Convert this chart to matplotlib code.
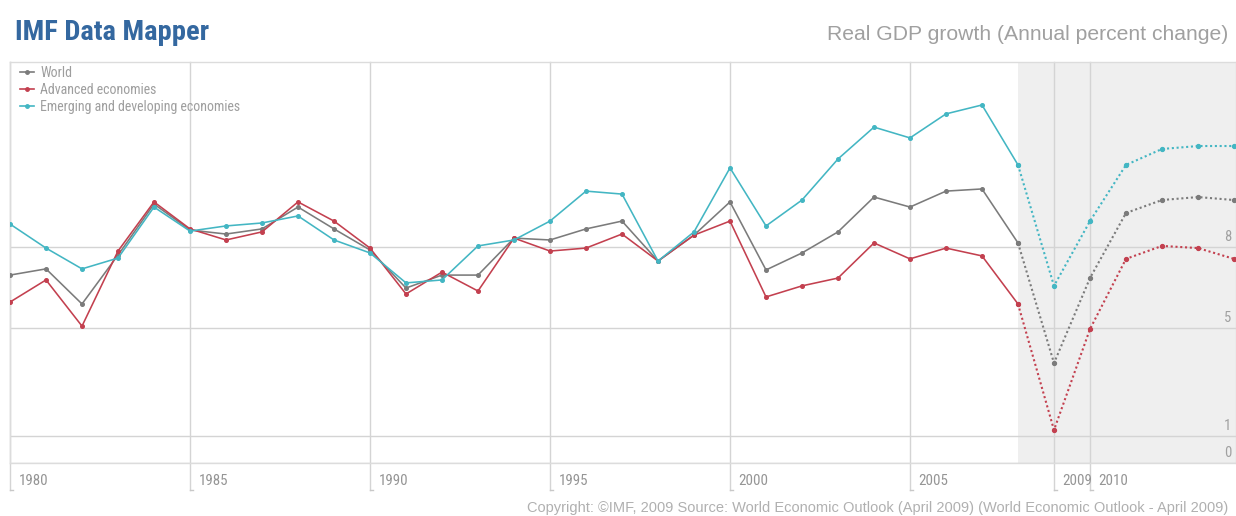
import numpy as np
import matplotlib.pyplot as plt
from matplotlib.lines import Line2D

years = np.arange(1980, 2015)

# values read in the chart's own axis units
world = [6.96, 7.19, 5.89, 7.70, 9.59, 8.63, 8.48, 8.67, 9.48, 8.67,
         7.89, 6.48, 6.96, 6.96, 8.33, 8.26, 8.67, 8.96, 7.48, 8.44,
         9.67, 7.15, 7.78, 8.56, 9.85, 9.48, 10.07, 10.15, 8.15, 3.70,
         6.85, 9.26, 9.74, 9.85, 9.74]
advanced = [5.96, 6.78, 5.07, 7.85, 9.67, 8.67, 8.26, 8.56, 9.67, 8.96,
            7.96, 6.26, 7.07, 6.37, 8.33, 7.85, 7.96, 8.48, 7.48, 8.44,
            8.96, 6.15, 6.56, 6.85, 8.15, 7.56, 7.96, 7.67, 5.89, 1.22,
            4.96, 7.56, 8.04, 7.96, 7.56]
emerging = [8.85, 7.96, 7.19, 7.59, 9.48, 8.59, 8.78, 8.89, 9.15, 8.26,
            7.78, 6.67, 6.78, 8.04, 8.26, 8.96, 10.07, 9.96, 7.48, 8.56,
            10.93, 8.78, 9.74, 11.26, 12.44, 12.04, 12.93, 13.26, 11.04, 6.56,
            8.96, 11.04, 11.63, 11.74, 11.74]

series_names = ["World", "Advanced economies", "Emerging and developing economies"]
series_colors = ["#7b7b7b", "#c3404f", "#43b6c3"]

forecast_start = 2008
xtick_years = [1980, 1985, 1990, 1995, 2000, 2005, 2009, 2010]
ytick_values = [0, 1, 5, 8]

narrow = ["Roboto Condensed", "DejaVu Sans"]
plain = ["Liberation Sans", "DejaVu Sans"]

W, H = 1236, 516
fig = plt.figure(figsize=(W / 100, H / 100), dpi=100)
ax = fig.add_axes([10 / W, (H - 463) / H, 1226 / W, 401 / H])

ax.set_xlim(1980, 1980 + 1226 / 36)
ax.set_ylim(0, 401 / 27)

# forecast shading
ax.axvspan(forecast_start, 2015, color="#efefef", lw=0, zorder=0)

# grid
grid_c = "#d4d4d4"
for yv in ytick_values:
    ax.axhline(yv, color=grid_c, lw=1, zorder=1)
    ax.text(0.996, yv + 0.38, str(yv), transform=ax.get_yaxis_transform(),
            ha="right", va="center", fontsize=10.5, color="#a0a0a0", family=narrow)
for xv in xtick_years:
    ax.axvline(xv, ymin=-0.068, ymax=1, color=grid_c, lw=1, zorder=1, clip_on=False)
    ax.plot([xv, xv + 0.08], [-0.068, -0.068], color="#c8c8c8", lw=1,
            transform=ax.get_xaxis_transform(), clip_on=False)
    ax.text(xv + 0.24, -0.045, str(xv), transform=ax.get_xaxis_transform(),
            ha="left", va="center", fontsize=10.8, color="#959595", family=narrow)

# series: solid history, dotted forecast
yrs = np.array(years)
hist = yrs <= forecast_start
fc = yrs >= forecast_start
for vals, col in zip([world, advanced, emerging], series_colors):
    v = np.array(vals)
    ax.plot(yrs[hist], v[hist], color=col, lw=1.15, marker="o", ms=2.6, zorder=3)
    ax.plot(yrs[fc], v[fc], color=col, lw=1.5, ls=(0, (1.0, 1.3)), zorder=3)
    ax.plot(yrs[fc], v[fc], color=col, lw=0, marker="o", ms=2.8, zorder=3)

for s in ax.spines.values():
    s.set_color("#dcdcdc")
    s.set_linewidth(1)
ax.set_xticks([])
ax.set_yticks([])

# legend
handles = [Line2D([0], [0], color=c, lw=1.2, marker="o", ms=2.5) for c in series_colors]
leg = ax.legend(handles, series_names, loc="upper left", bbox_to_anchor=(-0.002, 1.022),
                frameon=False, handlelength=1.0, handletextpad=0.45, labelspacing=0.22,
                prop={"family": narrow, "size": 10})
for t in leg.get_texts():
    t.set_color("#9e9e9e")

# titles
fig.text(15 / W, 1 - 33 / H, "IMF Data Mapper", ha="left", va="center",
         fontsize=20.5, fontweight="bold", color="#3468a0", family=narrow)
fig.text(1228 / W, 1 - 35 / H, "Real GDP growth (Annual percent change)", ha="right",
         va="center", fontsize=15.2, color="#a0a0a0", family=plain)
fig.text(1228 / W, 1 - 508 / H,
         "Copyright: \u00a9IMF, 2009 Source: World Economic Outlook (April 2009) "
         "(World Economic Outlook - April 2009)",
         ha="right", va="center", fontsize=10.5, color="#b0b0b0", family=plain)

fig.savefig("out.png", dpi=100)
